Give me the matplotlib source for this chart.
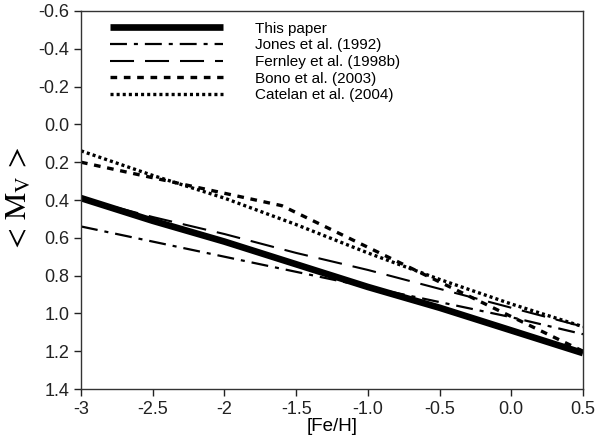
import numpy as np
import matplotlib
matplotlib.use('Agg')
from matplotlib import pyplot as plt

plt.rcParams['font.family'] = ['Liberation Sans', 'DejaVu Sans']
plt.rcParams['mathtext.fontset'] = 'stix'
plt.rcParams['lines.scale_dashes'] = False

# [Fe/H] grid and <M_V>
feh = [-3.0, -2.5, -2.0, -1.5, -1.0, -0.5, 0.0, 0.5]

this_paper = [0.39, 0.51, 0.62, 0.74, 0.86, 0.97, 1.09, 1.21]
jones = [0.54, 0.62, 0.70, 0.78, 0.86, 0.94, 1.02, 1.11]
fernley = [0.39, 0.49, 0.58, 0.68, 0.77, 0.87, 0.97, 1.07]
bono_x = [-3.0, -1.6, 0.5]
bono = [0.20, 0.43, 1.20]
catelan = [0.14, 0.27, 0.39, 0.53, 0.68, 0.82, 0.95, 1.07]

labels = ['This paper', 'Jones et al. (1992)', 'Fernley et al. (1998b)',
          'Bono et al. (2003)', 'Catelan et al. (2004)']

xticks = [-3, -2.5, -2, -1.5, -1.0, -0.5, 0.0, 0.5]
xticklabels = ['-3', '-2.5', '-2', '-1.5', '-1.0', '-0.5', '0.0', '0.5']
yticks = [-0.6, -0.4, -0.2, 0.0, 0.2, 0.4, 0.6, 0.8, 1.0, 1.2, 1.4]

fig = plt.figure(figsize=(5.97, 4.45), dpi=100)
ax = fig.add_axes([0.1357, 0.1258, 0.8408, 0.8495])

ax.plot(feh, this_paper, color='black', lw=4.8, solid_capstyle='butt', label=labels[0])
ax.plot(feh, jones, color='black', lw=1.6, dashes=(12.2, 5, 2.9, 5), label=labels[1])
ax.plot(feh, fernley, color='black', lw=1.5, dashes=(17.3, 7.9), label=labels[2])
ax.plot(bono_x, bono, color='black', lw=2.4, dashes=(4.8, 4.8), label=labels[3])
ax.plot(feh, catelan, color='black', lw=2.4, dashes=(2.2, 2.2), label=labels[4])

ax.set_xlim(-3, 0.5)
ax.set_ylim(1.4, -0.6)
ax.set_xticks(xticks)
ax.set_xticklabels(xticklabels)
ax.set_yticks(yticks)
ax.set_yticklabels(['%.1f' % v for v in yticks])
ax.tick_params(direction='out', length=5, width=1, labelsize=13, colors='#222222',
               top=False, right=False)
for s in ax.spines.values():
    s.set_color('#333333')
    s.set_linewidth(1)

ax.set_xlabel('[Fe/H]', fontsize=13.5, labelpad=0)
ax.set_ylabel(r'$<\,\mathrm{M_V}\,>$', fontsize=22, labelpad=3)

ax.legend(loc='upper left', bbox_to_anchor=(0.0304, 1.008), frameon=False,
          fontsize=11, handlelength=7.4, handletextpad=2.1, labelspacing=0.17)

fig.savefig('out.png', dpi=100)
